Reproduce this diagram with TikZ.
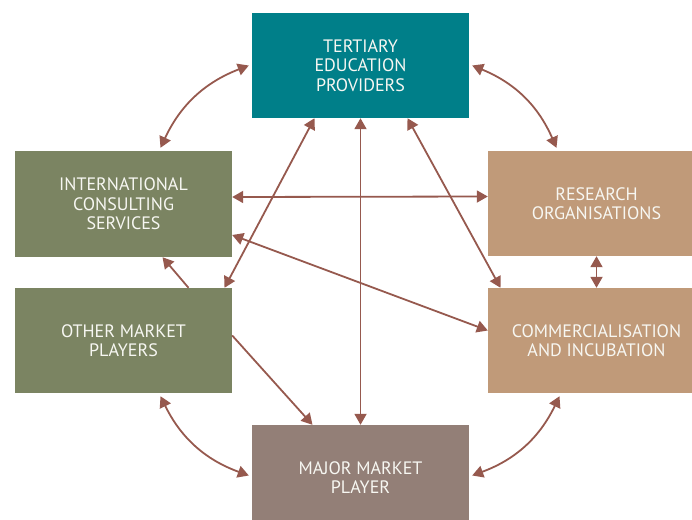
\documentclass[tikz,border=0pt]{standalone}
\usepackage{fontspec}
\setmainfont{PT Sans}
\usetikzlibrary{arrows.meta}
\definecolor{teal1}{HTML}{007F89}
\definecolor{olive1}{HTML}{7B8462}
\definecolor{tan1}{HTML}{C09A79}
\definecolor{mauve1}{HTML}{937F77}
\definecolor{conn}{HTML}{96594E}
\definecolor{txt}{HTML}{F7F7F2}
\begin{document}
\begin{tikzpicture}[x=1pt,y=-1pt,
  box/.style={minimum width=217pt,minimum height=105pt,inner sep=0pt,text=txt,align=center,
    font=\fontsize{18pt}{19.5pt}\selectfont},
  link/.style={draw=conn,line width=1.8pt},
  two/.style={link,{Triangle[length=11pt,width=12pt]}-{Triangle[length=11pt,width=12pt]}},
  one/.style={link,-{Triangle[length=11pt,width=12pt]}}]
\useasboundingbox (0,0) rectangle (692,519);
\node[box,fill=teal1] (TEP) at (360.5,65.5) {TERTIARY\\EDUCATION\\PROVIDERS};
\node[box,fill=olive1,minimum height=106pt] (ICS) at (123.5,204) {INTERNATIONAL\\CONSULTING\\SERVICES};
\node[box,fill=olive1] (OMP) at (123.5,340.5) {OTHER MARKET\\PLAYERS};
\node[box,fill=tan1] (RO) at (596.5,203.5) {RESEARCH\\ORGANISATIONS};
\node[box,fill=tan1] (CI) at (596.5,340.5) {COMMERCIALISATION\\AND INCUBATION};
\node[box,fill=mauve1] (MMP) at (360.5,477.5) {MAJOR MARKET\\PLAYER};
% curved links
\draw[two] ([xshift=-3pt]TEP.west) to[bend right=22] ([xshift=37pt,yshift=3pt]ICS.north);
\draw[two] ([xshift=3pt]TEP.east) to[bend left=22] ([xshift=-40pt,yshift=3pt]RO.north);
\draw[two] ([xshift=37pt,yshift=-3pt]OMP.south) to[bend right=22] ([xshift=-3pt,yshift=2pt]MMP.west);
\draw[two] ([xshift=-37pt,yshift=-3pt]CI.south) to[bend left=22] ([xshift=3pt,yshift=2pt]MMP.east);
% straight links
\draw[two] ([yshift=7pt]ICS.east) -- ([yshift=7pt]RO.west);
\draw[two] (RO.south) -- (CI.north);
\draw[two] (TEP.south) -- (MMP.north);
\draw[two] ([xshift=-46pt]TEP.south) -- ([xshift=101pt]OMP.north);
\draw[two] ([xshift=47pt]TEP.south) -- ([xshift=-96pt]CI.north);
\draw[two] ([yshift=-31pt]ICS.east) -- ([yshift=10pt]CI.west);
\draw[one] ([xshift=65pt]OMP.north) -- ([xshift=39pt]ICS.south);
\draw[one] ([yshift=5pt]OMP.east) -- ([xshift=-48pt]MMP.north);
\end{tikzpicture}
\end{document}
